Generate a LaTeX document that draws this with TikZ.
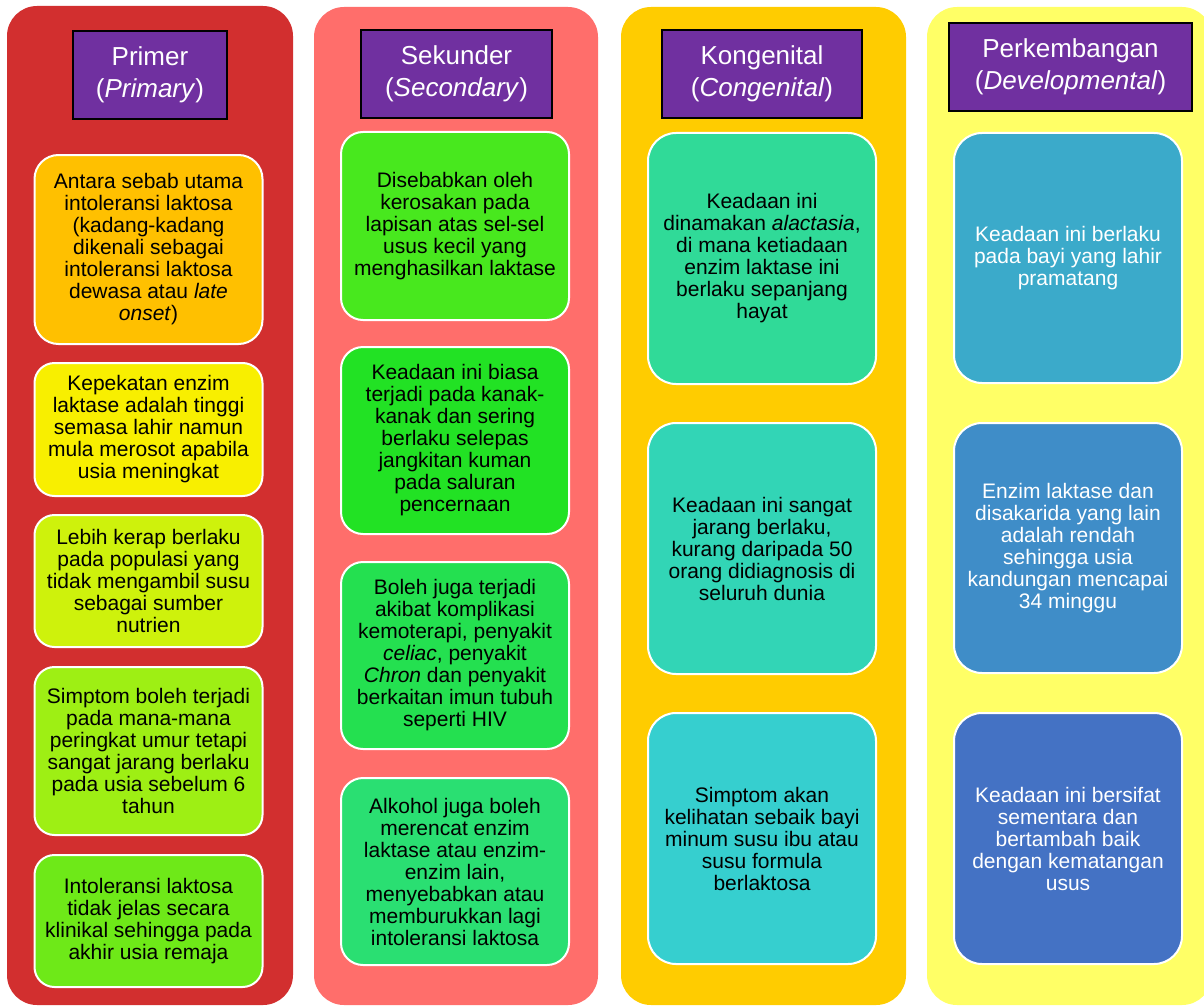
\documentclass[tikz,border=0pt]{standalone}
\usepackage{fontspec}
\setmainfont{Liberation Sans}
\usepackage{xcolor}
\definecolor{panelRed}{HTML}{D22F2F}
\definecolor{panelSalmon}{HTML}{FF6E6B}
\definecolor{panelGold}{HTML}{FFCC00}
\definecolor{panelLemon}{HTML}{FFFF66}
\definecolor{headPurple}{HTML}{7030A0}
\definecolor{pOne}{HTML}{FFC000}
\definecolor{pTwo}{HTML}{F8EF00}
\definecolor{pThree}{HTML}{CEF20C}
\definecolor{pFour}{HTML}{9EEF14}
\definecolor{pFive}{HTML}{6EE918}
\definecolor{sOne}{HTML}{48E81E}
\definecolor{sTwo}{HTML}{22E224}
\definecolor{sThree}{HTML}{24E050}
\definecolor{sFour}{HTML}{2ADF72}
\definecolor{kOne}{HTML}{30DA98}
\definecolor{kTwo}{HTML}{32D5B6}
\definecolor{kThree}{HTML}{36CFCF}
\definecolor{dOne}{HTML}{3BAACA}
\definecolor{dTwo}{HTML}{3F8DC8}
\definecolor{dThree}{HTML}{4472C4}

\begin{document}
\begin{tikzpicture}[x=1pt,y=-1pt,
  panel/.style={rounded corners=30pt},
  headbox/.style={draw=black, line width=1.5pt, fill=headPurple, text=white,
    align=center, inner sep=0pt, minimum height=88pt,
    font=\fontsize{26}{32}\selectfont},
  cellbox/.style={draw=white, line width=2pt, rounded corners=#1, align=center,
    inner sep=0pt, minimum width=228pt, font=\fontsize{21}{22}\selectfont},
  cellbox/.default=20pt]
\useasboundingbox (0,0) rectangle (1204,1006);
\clip (0,0) rectangle (1204,1006);
% Panels
\fill[panel, panelRed] (7,6) rectangle (293,1005);
\fill[panel, panelSalmon] (314,7) rectangle (598,1005);
\fill[panel, panelGold] (621,7) rectangle (906,1005);
\fill[panel, panelLemon] (927,7) rectangle (1212,1005);
% Headers
\node[headbox, minimum width=154pt] (h1) at (150,75) {Primer\\(\textit{Primary})};
\node[headbox, minimum width=191pt] (h2) at (456.5,74) {Sekunder\\(\textit{Secondary})};
\node[headbox, minimum width=200pt] (h3) at (762,74) {Kongenital\\(\textit{Congenital})};
\node[headbox, minimum width=243pt] (h4) at (1070.5,67) {Perkembangan\\(\textit{Developmental})};
% Primer cells
\node[cellbox=24pt, fill=pOne, minimum height=189pt] (p1) at (148.5,249.5)
  {Antara sebab utama\\intoleransi laktosa\\(kadang-kadang\\dikenali sebagai\\intoleransi laktosa\\dewasa atau \textit{late}\\\textit{onset})};
\node[cellbox, fill=pTwo, minimum height=133pt] (p2) at (148.5,429.5)
  {Kepekatan enzim\\laktase adalah tinggi\\semasa lahir namun\\mula merosot apabila\\usia meningkat};
\node[cellbox, fill=pThree, minimum height=132pt] (p3) at (148.5,581)
  {Lebih kerap berlaku\\pada populasi yang\\tidak mengambil susu\\sebagai sumber\\nutrien};
\node[cellbox, fill=pFour, minimum height=168pt] (p4) at (148.5,751)
  {Simptom boleh terjadi\\pada mana-mana\\peringkat umur tetapi\\sangat jarang berlaku\\pada usia sebelum 6\\tahun};
\node[cellbox, fill=pFive, minimum height=132pt] (p5) at (148.5,921)
  {Intoleransi laktosa\\tidak jelas secara\\klinikal sehingga pada\\akhir usia remaja};
% Sekunder cells
\node[cellbox=22pt, fill=sOne, minimum height=188pt] (s1) at (455,226)
  {Disebabkan oleh\\kerosakan pada\\lapisan atas sel-sel\\usus kecil yang\\menghasilkan laktase};
\node[cellbox=22pt, fill=sTwo, minimum height=187pt] (s2) at (455,440.5)
  {Keadaan ini biasa\\terjadi pada kanak-\\kanak dan sering\\berlaku selepas\\jangkitan kuman\\pada saluran\\pencernaan};
\node[cellbox=22pt, fill=sThree, minimum height=187pt] (s3) at (455,655.5)
  {Boleh juga terjadi\\akibat komplikasi\\kemoterapi, penyakit\\\textit{celiac}, penyakit\\\textit{Chron} dan penyakit\\berkaitan imun tubuh\\seperti HIV};
\node[cellbox=22pt, fill=sFour, minimum height=187pt] (s4) at (455,871.5)
  {Alkohol juga boleh\\merencat enzim\\laktase atau enzim-\\enzim lain,\\menyebabkan atau\\memburukkan lagi\\intoleransi laktosa};
% Kongenital cells
\node[cellbox=28pt, fill=kOne, minimum height=251pt] (k1) at (762,258.5)
  {Keadaan ini\\dinamakan \textit{alactasia},\\di mana ketiadaan\\enzim laktase ini\\berlaku sepanjang\\hayat};
\node[cellbox=28pt, fill=kTwo, minimum height=251pt] (k2) at (762,548.5)
  {Keadaan ini sangat\\jarang berlaku,\\kurang daripada 50\\orang didiagnosis di\\seluruh dunia};
\node[cellbox=28pt, fill=kThree, minimum height=251pt] (k3) at (762,838.5)
  {Simptom akan\\kelihatan sebaik bayi\\minum susu ibu atau\\susu formula\\berlaktosa};
% Perkembangan cells
\node[cellbox=28pt, fill=dOne, text=white, minimum height=250pt] (d1) at (1068,258)
  {Keadaan ini berlaku\\pada bayi yang lahir\\pramatang};
\node[cellbox=28pt, fill=dTwo, text=white, minimum height=250pt] (d2) at (1068,548)
  {Enzim laktase dan\\disakarida yang lain\\adalah rendah\\sehingga usia\\kandungan mencapai\\34 minggu};
\node[cellbox=28pt, fill=dThree, text=white, minimum height=251pt] (d3) at (1068,838.5)
  {Keadaan ini bersifat\\sementara dan\\bertambah baik\\dengan kematangan\\usus};
\end{tikzpicture}
\end{document}
